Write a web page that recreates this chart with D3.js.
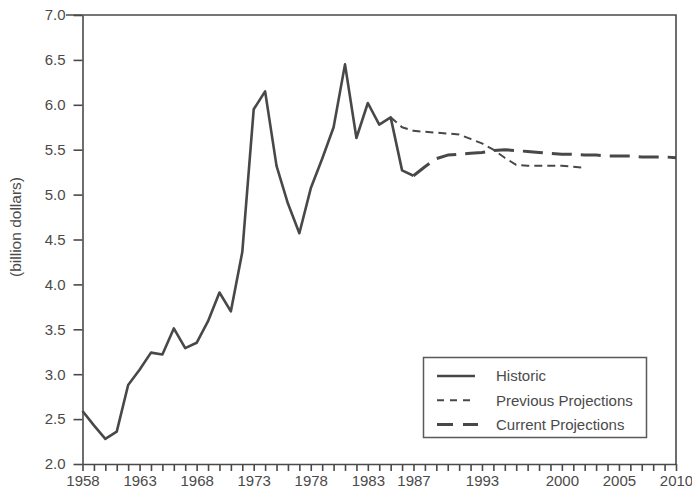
<!DOCTYPE html>
<html>
<head>
<meta charset="utf-8">
<script src="https://cdn.jsdelivr.net/npm/d3@7"></script>
<style>
  body { margin: 0; background: #fff; }
  text { font-family: "Liberation Sans", Arial, sans-serif; }
</style>
</head>
<body>
<div id="chart"><svg></svg></div>
<script>
// data
var historicYears = d3.range(1958, 1988)
var historicValues = [2.59, 2.43, 2.28, 2.36, 2.88, 3.05, 3.24, 3.22, 3.51, 3.29,
  3.35, 3.59, 3.91, 3.70, 4.36, 5.95, 6.15, 5.32, 4.90, 4.57,
  5.07, 5.40, 5.75, 6.45, 5.63, 6.02, 5.78, 5.86, 5.27, 5.21]

var previousYears = d3.range(1985, 2003)
var previousValues = [5.86, 5.75, 5.71, 5.70, 5.69, 5.68, 5.67, 5.62, 5.57, 5.50,
  5.41, 5.33, 5.32, 5.32, 5.32, 5.32, 5.31, 5.30]

var currentYears = d3.range(1987, 2011)
var currentValues = [5.21, 5.31, 5.40, 5.44, 5.45, 5.46, 5.47, 5.49, 5.50, 5.49,
  5.48, 5.47, 5.46, 5.45, 5.45, 5.44, 5.44, 5.43, 5.43, 5.43,
  5.42, 5.42, 5.42, 5.41]

var xLabels = [1958, 1963, 1968, 1973, 1978, 1983, 1987, 1993, 2000, 2005, 2010]
var yTicks = [2.0, 2.5, 3.0, 3.5, 4.0, 4.5, 5.0, 5.5, 6.0, 6.5, 7.0]

var seriesNames = ["Historic", "Previous Projections", "Current Projections"]

var width = 692
var height = 491
var ink = "#4a4a4a"
var lineInk = "#484848"

var svg = d3.select("#chart svg")
  .attr("width", width)
  .attr("height", height)

var x = d3.scaleLinear().domain([1958, 2010]).range([82.5, 676])
var y = d3.scaleLinear().domain([2, 7]).range([464, 15])

// axes
svg.append("g")
  .attr("transform", "translate(0," + y(2) + ")")
  .call(d3.axisBottom(x)
    .tickValues(d3.range(1958, 2011))
    .tickSize(7)
    .tickSizeOuter(0)
    .tickPadding(4)
    .tickFormat(d => xLabels.indexOf(d) >= 0 ? d : ""))

svg.append("g")
  .attr("transform", "translate(" + x(1958) + ",0)")
  .call(d3.axisLeft(y)
    .tickValues(yTicks)
    .tickSize(9)
    .tickSizeOuter(0)
    .tickPadding(8)
    .tickFormat(d3.format(".1f")))

svg.selectAll(".domain, .tick line")
  .attr("stroke", ink)
  .attr("stroke-width", 1.6)
svg.selectAll(".tick text")
  .attr("fill", ink)
  .style("font-size", "15px")

// frame top + right
svg.append("path")
  .attr("d", "M66," + y(7) + "H" + x(2010) + "V" + y(2))
  .attr("fill", "none")
  .attr("stroke", ink)
  .attr("stroke-width", 1.6)

svg.append("text")
  .attr("transform", "translate(21,227) rotate(-90)")
  .attr("text-anchor", "middle")
  .attr("fill", ink)
  .style("font-size", "15.5px")
  .text("(billion dollars)")

// lines
var line = d3.line()
  .x(d => x(d[0]))
  .y(d => y(d[1]))

var series = [
  { pts: d3.zip(historicYears, historicValues), w: 2.6, dash: null },
  { pts: d3.zip(previousYears, previousValues), w: 2, dash: "8,5" },
  { pts: d3.zip(currentYears, currentValues), w: 3, dash: "20,9" }
]

svg.selectAll(".series")
  .data(series)
  .join("path")
  .attr("class", "series")
  .attr("d", d => line(d.pts))
  .attr("fill", "none")
  .attr("stroke", lineInk)
  .attr("stroke-width", d => d.w)
  .attr("stroke-dasharray", d => d.dash)
  .attr("stroke-linejoin", "round")

// legend
var legend = svg.append("g")

legend.append("rect")
  .attr("x", 423.5)
  .attr("y", 357.5)
  .attr("width", 223)
  .attr("height", 80)
  .attr("fill", "#fff")
  .attr("stroke", "#5a5a5a")
  .attr("stroke-width", 1.5)

var legendDash = [null, "7,6", "16,10"]
var legendW = [2.6, 2, 3]
var legendEnd = [475, 474, 478]

var item = legend.selectAll(".item")
  .data(seriesNames)
  .join("g")
  .attr("class", "item")
  .attr("transform", (d, i) => "translate(0," + (376 + i * 24.3) + ")")

item.append("line")
  .attr("x1", 437)
  .attr("x2", (d, i) => legendEnd[i])
  .attr("stroke", lineInk)
  .attr("stroke-width", (d, i) => legendW[i])
  .attr("stroke-dasharray", (d, i) => legendDash[i])

item.append("text")
  .attr("x", 496)
  .attr("dy", "0.35em")
  .attr("fill", ink)
  .style("font-size", "15px")
  .text(d => d)
</script>
</body>
</html>
